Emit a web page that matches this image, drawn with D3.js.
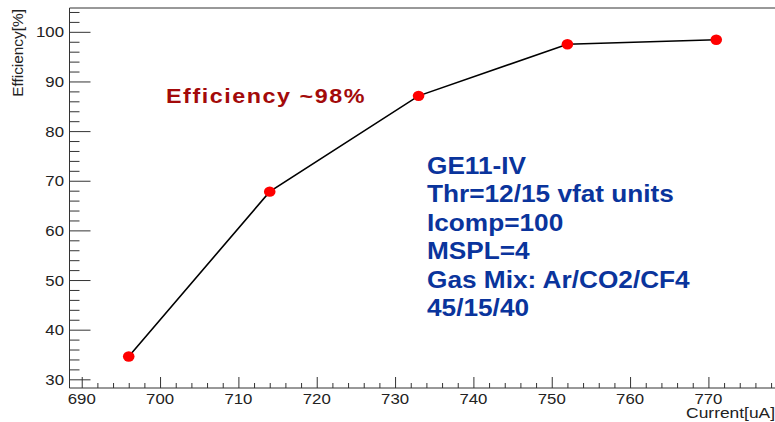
<!DOCTYPE html>
<html>
<head>
<meta charset="utf-8">
<script src="https://cdn.jsdelivr.net/npm/d3@7"></script>
<style>
  body { margin: 0; background: #fff; }
  text { font-family: "Liberation Sans", Arial, sans-serif; }
</style>
</head>
<body>
<div id="chart"></div>
<script>
// data
var current = [696, 714, 733, 752, 771];
var efficiency = [34.6, 67.8, 87.1, 97.5, 98.4];
var xTicks = [690, 700, 710, 720, 730, 740, 750, 760, 770];
var yTicks = [30, 40, 50, 60, 70, 80, 90, 100];
var infoLines = ["GE11-IV", "Thr=12/15 vfat units", "Icomp=100", "MSPL=4", "Gas Mix: Ar/CO2/CF4", "45/15/40"];

var svgWidth = 775;
var svgHeight = 422;

var svg = d3.select("#chart")
  .append("svg")
  .attr("width", svgWidth)
  .attr("height", svgHeight);

var xScale = d3.scaleLinear()
  .domain([688.44, 778.5])
  .range([69.5, 775]);

var yScale = d3.scaleLinear()
  .domain([28.25, 104.8])
  .range([388, 8]);

var axisColor = "#333";

// frame lines (left, bottom, top)
svg.append("line")
  .attr("x1", 69.5).attr("x2", 69.5).attr("y1", 8).attr("y2", 388)
  .attr("stroke", axisColor);
svg.append("line")
  .attr("x1", 69.5).attr("x2", 775).attr("y1", 388).attr("y2", 388)
  .attr("stroke", axisColor);
svg.append("line")
  .attr("x1", 69.5).attr("x2", 775).attr("y1", 8).attr("y2", 8)
  .attr("stroke", axisColor);

// x axis ticks, pointing up
var xMinor = d3.range(690, 779, 2).filter(d => d % 10 != 0);
var gx = svg.append("g")
  .attr("transform", "translate(0,388)")
  .call(d3.axisTop(xScale).tickValues(xTicks).tickSize(11).tickFormat(""));
gx.select(".domain").remove();
gx.selectAll("line").attr("stroke", axisColor);

var gxMinor = svg.append("g")
  .attr("transform", "translate(0,388)")
  .call(d3.axisTop(xScale).tickValues(xMinor).tickSize(5).tickFormat(""));
gxMinor.select(".domain").remove();
gxMinor.selectAll("line").attr("stroke", axisColor);

svg.append("g").selectAll("text")
  .data(xTicks)
  .enter()
  .append("text")
  .attr("transform", d => `translate(${xScale(d)},403.5) scale(1.12,1)`)
  .attr("text-anchor", "middle")
  .attr("font-size", 15)
  .attr("fill", "#222")
  .text(d => d);

// y axis ticks, pointing right
var yMinor = d3.range(30, 105, 2).filter(d => d % 10 != 0);
var gy = svg.append("g")
  .attr("transform", "translate(69.5,0)")
  .call(d3.axisRight(yScale).tickValues(yTicks).tickSize(21).tickFormat(""));
gy.select(".domain").remove();
gy.selectAll("line").attr("stroke", axisColor);

var gyMinor = svg.append("g")
  .attr("transform", "translate(69.5,0)")
  .call(d3.axisRight(yScale).tickValues(yMinor).tickSize(10).tickFormat(""));
gyMinor.select(".domain").remove();
gyMinor.selectAll("line").attr("stroke", axisColor);

svg.append("g").selectAll("text")
  .data(yTicks)
  .enter()
  .append("text")
  .attr("transform", d => `translate(64,${yScale(d) + 5.5}) scale(1.12,1)`)
  .attr("text-anchor", "end")
  .attr("font-size", 15)
  .attr("fill", "#222")
  .text(d => d);

// axis titles
svg.append("text")
  .attr("transform", "translate(23,9) rotate(-90) scale(1.1,1)")
  .attr("text-anchor", "end")
  .attr("font-size", 14)
  .attr("fill", "#222")
  .text("Efficiency[%]");

svg.append("text")
  .attr("transform", "translate(775,418) scale(1.2,1)")
  .attr("text-anchor", "end")
  .attr("font-size", 14.5)
  .attr("fill", "#222")
  .text("Current[uA]");

// graph
var points = current.map((c, i) => [c, efficiency[i]]);
var line = d3.line()
  .x(d => xScale(d[0]))
  .y(d => yScale(d[1]));

svg.append("path")
  .datum(points)
  .attr("d", line)
  .attr("fill", "none")
  .attr("stroke", "#000")
  .attr("stroke-width", 1.6);

svg.selectAll("ellipse.pt")
  .data(points)
  .enter()
  .append("ellipse")
  .attr("class", "pt")
  .attr("cx", d => xScale(d[0]))
  .attr("cy", d => yScale(d[1]))
  .attr("rx", 5.8)
  .attr("ry", 5.2)
  .attr("fill", "#ff0000");

// annotations
svg.append("text")
  .attr("transform", "translate(166,103) scale(1.11,1)")
  .attr("font-size", 21)
  .attr("font-weight", "bold")
  .attr("letter-spacing", 1.4)
  .attr("fill", "#a30a0a")
  .text("Efficiency ~98%");

svg.append("g").selectAll("text")
  .data(infoLines)
  .enter()
  .append("text")
  .attr("transform", (d, i) => `translate(427,${174 + i * 28.4}) scale(1.14,1)`)
  .attr("font-size", 23)
  .attr("font-weight", "bold")
  .attr("fill", "#0a349c")
  .text(d => d);
</script>
</body>
</html>
